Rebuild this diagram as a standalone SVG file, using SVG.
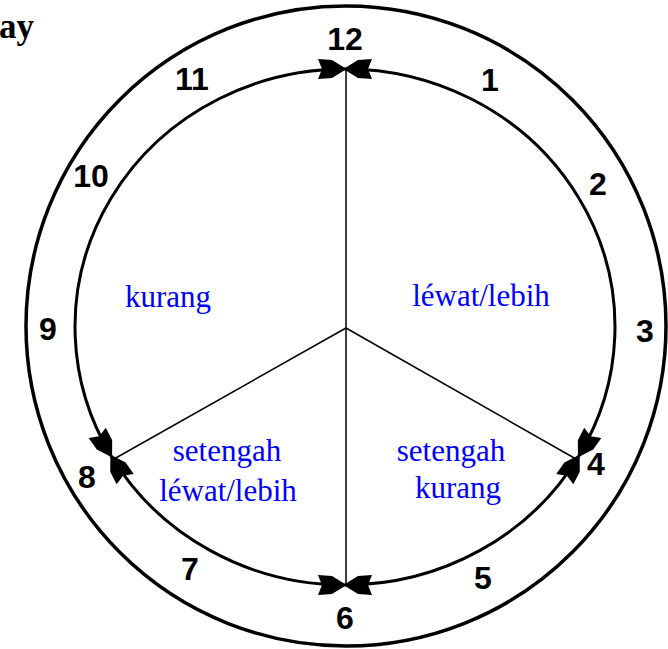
<svg xmlns="http://www.w3.org/2000/svg" width="668" height="649" viewBox="0 0 668 649">
<style>
.num{font-family:"Liberation Sans",Arial,sans-serif;font-weight:bold;font-size:32px;fill:#000;text-anchor:middle}
.lbl{font-family:"Liberation Serif","Times New Roman",serif;font-size:31px;fill:#0000ff;text-anchor:middle}
.arc{fill:none;stroke:#000;stroke-width:3;marker-start:url(#ah);marker-end:url(#ah)}
.rad{stroke:#000;stroke-width:1.5;fill:none}
</style>
<defs>
<marker id="ah" markerUnits="userSpaceOnUse" markerWidth="32" markerHeight="24" viewBox="-29 -12 32 24" refX="0" refY="0" orient="auto-start-reverse">
<path d="M0,-1 L-13,-9 L-27,-10 L-23,0 L-27,10 L-13,9 L0,1 Z" fill="#000"/>
</marker>
</defs>
<rect width="668" height="649" fill="#fff"/>
<text x="-1" y="38" font-family="Liberation Serif,'Times New Roman',serif" font-weight="bold" font-size="35" fill="#000">ay</text>
<g id="outer"><circle cx="346" cy="326" r="320" fill="none" stroke="#000" stroke-width="3.5"/></g>
<g id="connectors">
<path class="arc" d="M345,69 A270,258 0 0 1 578.8,456"/>
<path class="arc" d="M578.8,456 A270,258 0 0 1 345,585"/>
<path class="arc" d="M345,585 A270,258 0 0 1 111.2,456"/>
<path class="arc" d="M111.2,456 A270,258 0 0 1 345,69"/>
<line class="rad" x1="346" y1="69" x2="346" y2="585"/>
<line class="rad" x1="346" y1="328" x2="576" y2="459"/>
<line class="rad" x1="346" y1="328" x2="114" y2="459"/>
</g>
<g id="numbers">
<text class="num" x="345" y="50">12</text>
<text class="num" x="490" y="91">1</text>
<text class="num" x="598" y="195">2</text>
<text class="num" x="645" y="342">3</text>
<text class="num" x="596" y="475">4</text>
<text class="num" x="483" y="589">5</text>
<text class="num" x="345" y="629">6</text>
<text class="num" x="190" y="580">7</text>
<text class="num" x="87" y="488">8</text>
<text class="num" x="48" y="340">9</text>
<text class="num" x="91" y="187">10</text>
<text class="num" x="192" y="90">11</text>
</g>
<g id="kurang"><text class="lbl" x="168" y="307">kurang</text></g>
<g id="lewat"><text class="lbl" x="481" y="306">léwat/lebih</text></g>
<g id="setengah-lewat"><text class="lbl" x="227" y="461">setengah</text><text class="lbl" x="228" y="501">léwat/lebih</text></g>
<g id="setengah-kurang"><text class="lbl" x="451" y="461">setengah</text><text class="lbl" x="458" y="498">kurang</text></g>
</svg>
